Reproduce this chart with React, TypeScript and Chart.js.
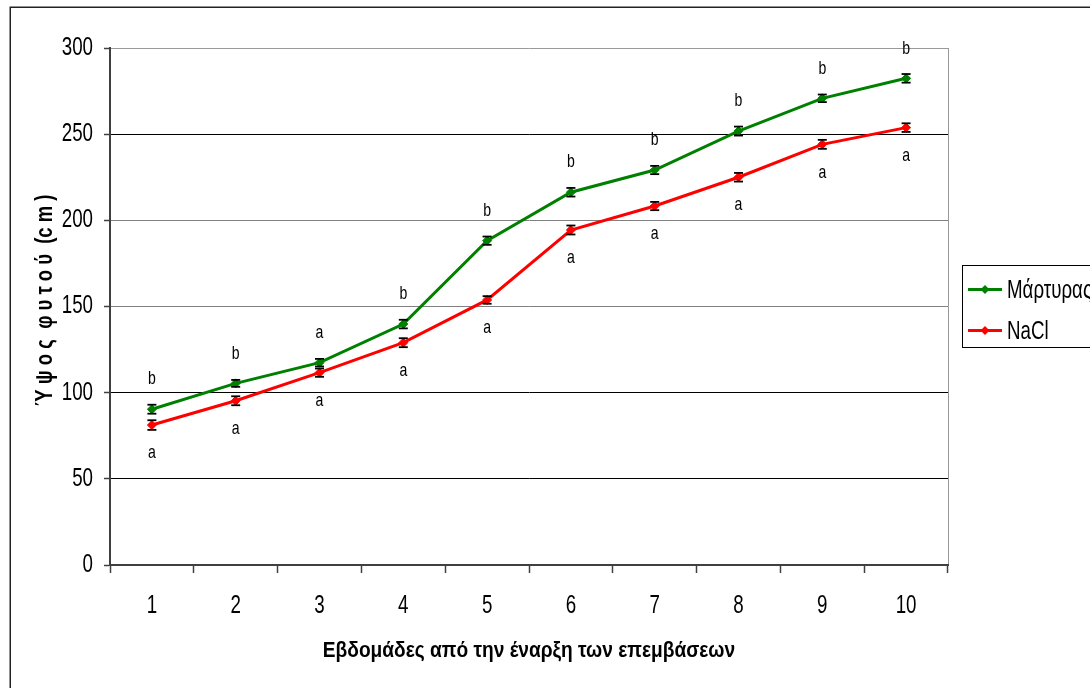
import React, { useEffect, useRef } from "react";
import { Chart, registerables } from "chart.js";

Chart.register(...registerables);

// Weeks since the start of the treatments
const weeks = ["1", "2", "3", "4", "5", "6", "7", "8", "9", "10"];

// Plant height (cm), mean values per week
const controlHeight = [90.4, 105.4, 117.4, 139.8, 188.2, 216.3, 229.2, 251.8, 270.8, 282.4];
const naclHeight = [81.2, 95.3, 111.6, 129.0, 153.8, 194.4, 208.3, 225.0, 244.1, 253.8];

// Standard errors
const controlError = [2.6, 2.0, 2.2, 2.5, 2.4, 2.5, 2.4, 2.6, 2.2, 2.5];
const naclError = [2.8, 2.6, 2.4, 2.6, 2.2, 2.6, 2.4, 2.5, 2.6, 2.5];

// Significance letters
const controlLetters = ["b", "b", "a", "b", "b", "b", "b", "b", "b", "b"];
const naclLetters = ["a", "a", "a", "a", "a", "a", "a", "a", "a", "a"];

const seriesNames = ["Μάρτυρας", "NaCl"];
const seriesColors = ["#008000", "#ff0000"];

const xTitle = "Εβδομάδες από την έναρξη των επεμβάσεων";
const yTitle = "Ύ ψ ο ς  φ υ τ ο ύ  (c m )";

const yMin = 0;
const yMax = 300;
const yStep = 50;

const FONT = "'Liberation Sans', Arial, sans-serif";
const AXIS_COLOR = "#404040";

// Narrow-looking text: the regular face squeezed horizontally
function drawNarrow(
  ctx: CanvasRenderingContext2D,
  text: string,
  x: number,
  y: number,
  font: string,
  sx: number,
  align: CanvasTextAlign,
  rotation = 0
) {
  ctx.save();
  ctx.translate(x, y);
  if (rotation) ctx.rotate(rotation);
  ctx.scale(sx, 1);
  ctx.font = font;
  ctx.fillStyle = "#000000";
  ctx.textAlign = align;
  ctx.textBaseline = "middle";
  ctx.fillText(text, 0, 0);
  ctx.restore();
}

const background = {
  id: "background",
  beforeDraw(chart: any) {
    const { ctx, chartArea } = chart;
    ctx.save();
    ctx.fillStyle = "#ffffff";
    ctx.fillRect(0, 0, chart.width, chart.height);
    // outer frame
    ctx.strokeStyle = "#222222";
    ctx.lineWidth = 1.5;
    ctx.strokeRect(10.25, 7.25, chart.width + 20, chart.height + 20);
    // right edge of the plot area
    ctx.strokeStyle = "#999999";
    ctx.lineWidth = 1;
    const x = Math.round(chartArea.right) + 0.5;
    ctx.beginPath();
    ctx.moveTo(x, chartArea.top);
    ctx.lineTo(x, chartArea.bottom);
    ctx.stroke();
    ctx.restore();
  },
};

// Tick labels and axis titles
const axisText = {
  id: "axisText",
  afterDraw(chart: any) {
    const { ctx, chartArea } = chart;
    const xs = chart.scales.x;
    const ys = chart.scales.y;
    const tickFont = `25px ${FONT}`;
    ys.ticks.forEach((t: any, i: number) => {
      drawNarrow(ctx, String(t.value), ys.right - 17, ys.getPixelForTick(i), tickFont, 0.75, "right");
    });
    xs.ticks.forEach((t: any, i: number) => {
      drawNarrow(ctx, xs.getLabelForValue(t.value), xs.getPixelForTick(i), xs.top + 41, tickFont, 0.75, "center");
    });
    drawNarrow(ctx, xTitle, (chartArea.left + chartArea.right) / 2, xs.bottom - 37, `bold 22px ${FONT}`, 0.87, "center");
    drawNarrow(ctx, yTitle, ys.left + 45.5, (chartArea.top + chartArea.bottom) / 2 - 6, `bold 24px ${FONT}`, 0.77, "center", -Math.PI / 2);
  },
};

const errorsFor = [controlError, naclError];
const lettersFor = [controlLetters, naclLetters];

const errorBars = {
  id: "errorBars",
  beforeDatasetsDraw(chart: any) {
    const { ctx } = chart;
    const xs = chart.scales.x;
    const ys = chart.scales.y;
    ctx.save();
    ctx.strokeStyle = "#000000";
    ctx.lineWidth = 1.2;
    chart.data.datasets.forEach((ds: any, d: number) => {
      ds.data.forEach((v: number, i: number) => {
        const x = xs.getPixelForValue(i);
        ctx.beginPath();
        ctx.moveTo(x, ys.getPixelForValue(v + errorsFor[d][i]));
        ctx.lineTo(x, ys.getPixelForValue(v - errorsFor[d][i]));
        ctx.stroke();
      });
    });
    ctx.restore();
  },
  afterDatasetsDraw(chart: any) {
    const { ctx } = chart;
    const xs = chart.scales.x;
    const ys = chart.scales.y;
    ctx.save();
    ctx.strokeStyle = "#000000";
    ctx.lineWidth = 1.8;
    chart.data.datasets.forEach((ds: any, d: number) => {
      ds.data.forEach((v: number, i: number) => {
        const x = xs.getPixelForValue(i);
        [v + errorsFor[d][i], v - errorsFor[d][i]].forEach((e) => {
          const y = ys.getPixelForValue(e);
          ctx.beginPath();
          ctx.moveTo(x - 4.5, y);
          ctx.lineTo(x + 4.5, y);
          ctx.stroke();
        });
      });
    });
    ctx.restore();
    // significance letters: above the control line, below the NaCl line
    chart.data.datasets.forEach((ds: any, d: number) => {
      ds.data.forEach((v: number, i: number) => {
        const x = xs.getPixelForValue(i);
        const y = ys.getPixelForValue(v) + (d === 0 ? -30 : 28);
        drawNarrow(ctx, lettersFor[d][i], x, y, `19px ${FONT}`, 0.74, "center");
      });
    });
  },
};

const sideLegend = {
  id: "sideLegend",
  afterDraw(chart: any) {
    const { ctx, chartArea } = chart;
    const left = chartArea.right + 14;
    const mid = (chartArea.top + chartArea.bottom) / 2;
    const top = Math.round(mid - 42) + 0.5;
    ctx.save();
    ctx.strokeStyle = "#000000";
    ctx.lineWidth = 1;
    ctx.strokeRect(Math.round(left) + 0.5, top, 200, 82);
    seriesNames.forEach((name, k) => {
      const y = top + 24 + k * 41;
      ctx.strokeStyle = seriesColors[k];
      ctx.lineWidth = 3;
      ctx.beginPath();
      ctx.moveTo(left + 6, y);
      ctx.lineTo(left + 40, y);
      ctx.stroke();
      ctx.fillStyle = seriesColors[k];
      ctx.beginPath();
      ctx.moveTo(left + 23, y - 4.5);
      ctx.lineTo(left + 27.5, y);
      ctx.lineTo(left + 23, y + 4.5);
      ctx.lineTo(left + 18.5, y);
      ctx.closePath();
      ctx.fill();
      drawNarrow(ctx, name, left + 45, y + 1, `26px ${FONT}`, 0.72, "left");
    });
    ctx.restore();
  },
};

function gridColorFor(value: number) {
  if (value === yMin) return "rgba(0,0,0,0)";
  if (value === yMax) return "#999999";
  if (value === 200 || value === 150) return "#808080";
  return "#000000";
}

export default function App() {
  const canvasRef = useRef<HTMLCanvasElement | null>(null);

  useEffect(() => {
    const canvas = canvasRef.current;
    if (!canvas) return;
    const chart = new Chart(canvas, {
      type: "line",
      data: {
        labels: weeks,
        datasets: [controlHeight, naclHeight].map((values, k) => ({
          label: seriesNames[k],
          data: values,
          borderColor: seriesColors[k],
          backgroundColor: seriesColors[k],
          borderWidth: 3,
          pointStyle: "rectRot",
          pointRadius: 4.5,
          pointBorderWidth: 1,
          pointBackgroundColor: seriesColors[k],
          pointBorderColor: seriesColors[k],
          tension: 0,
          fill: false,
        })),
      },
      options: {
        responsive: false,
        maintainAspectRatio: false,
        animation: false,
        devicePixelRatio: 1,
        layout: { padding: { top: 48, right: 142, left: 0, bottom: 0 } },
        plugins: {
          legend: { display: false },
          tooltip: { enabled: false },
        },
        scales: {
          x: {
            type: "category",
            offset: true,
            grid: {
              display: true,
              drawOnChartArea: false,
              drawTicks: true,
              tickLength: 8,
              offset: true,
              tickColor: AXIS_COLOR,
              tickWidth: 1.5,
            },
            border: { display: true, color: AXIS_COLOR, width: 2 },
            ticks: { display: false },
            title: { display: false },
            afterFit(scale: any) {
              scale.height = 123;
            },
          },
          y: {
            min: yMin,
            max: yMax,
            ticks: { display: false, stepSize: yStep },
            grid: {
              color: (ctx: any) => gridColorFor(ctx.tick.value),
              lineWidth: 1,
              drawTicks: true,
              tickLength: 6,
              tickColor: AXIS_COLOR,
              tickWidth: 1.5,
            },
            border: { display: true, color: AXIS_COLOR, width: 2 },
            title: { display: false },
            afterFit(scale: any) {
              scale.width = 110;
            },
          },
        },
      },
      plugins: [background, errorBars, axisText, sideLegend],
    } as any);
    return () => chart.destroy();
  }, []);

  return (
    <div style={{ position: "fixed", left: 0, top: 0, width: 1090, height: 688, background: "#fff" }}>
      <canvas ref={canvasRef} width={1090} height={688} style={{ display: "block" }} />
    </div>
  );
}
